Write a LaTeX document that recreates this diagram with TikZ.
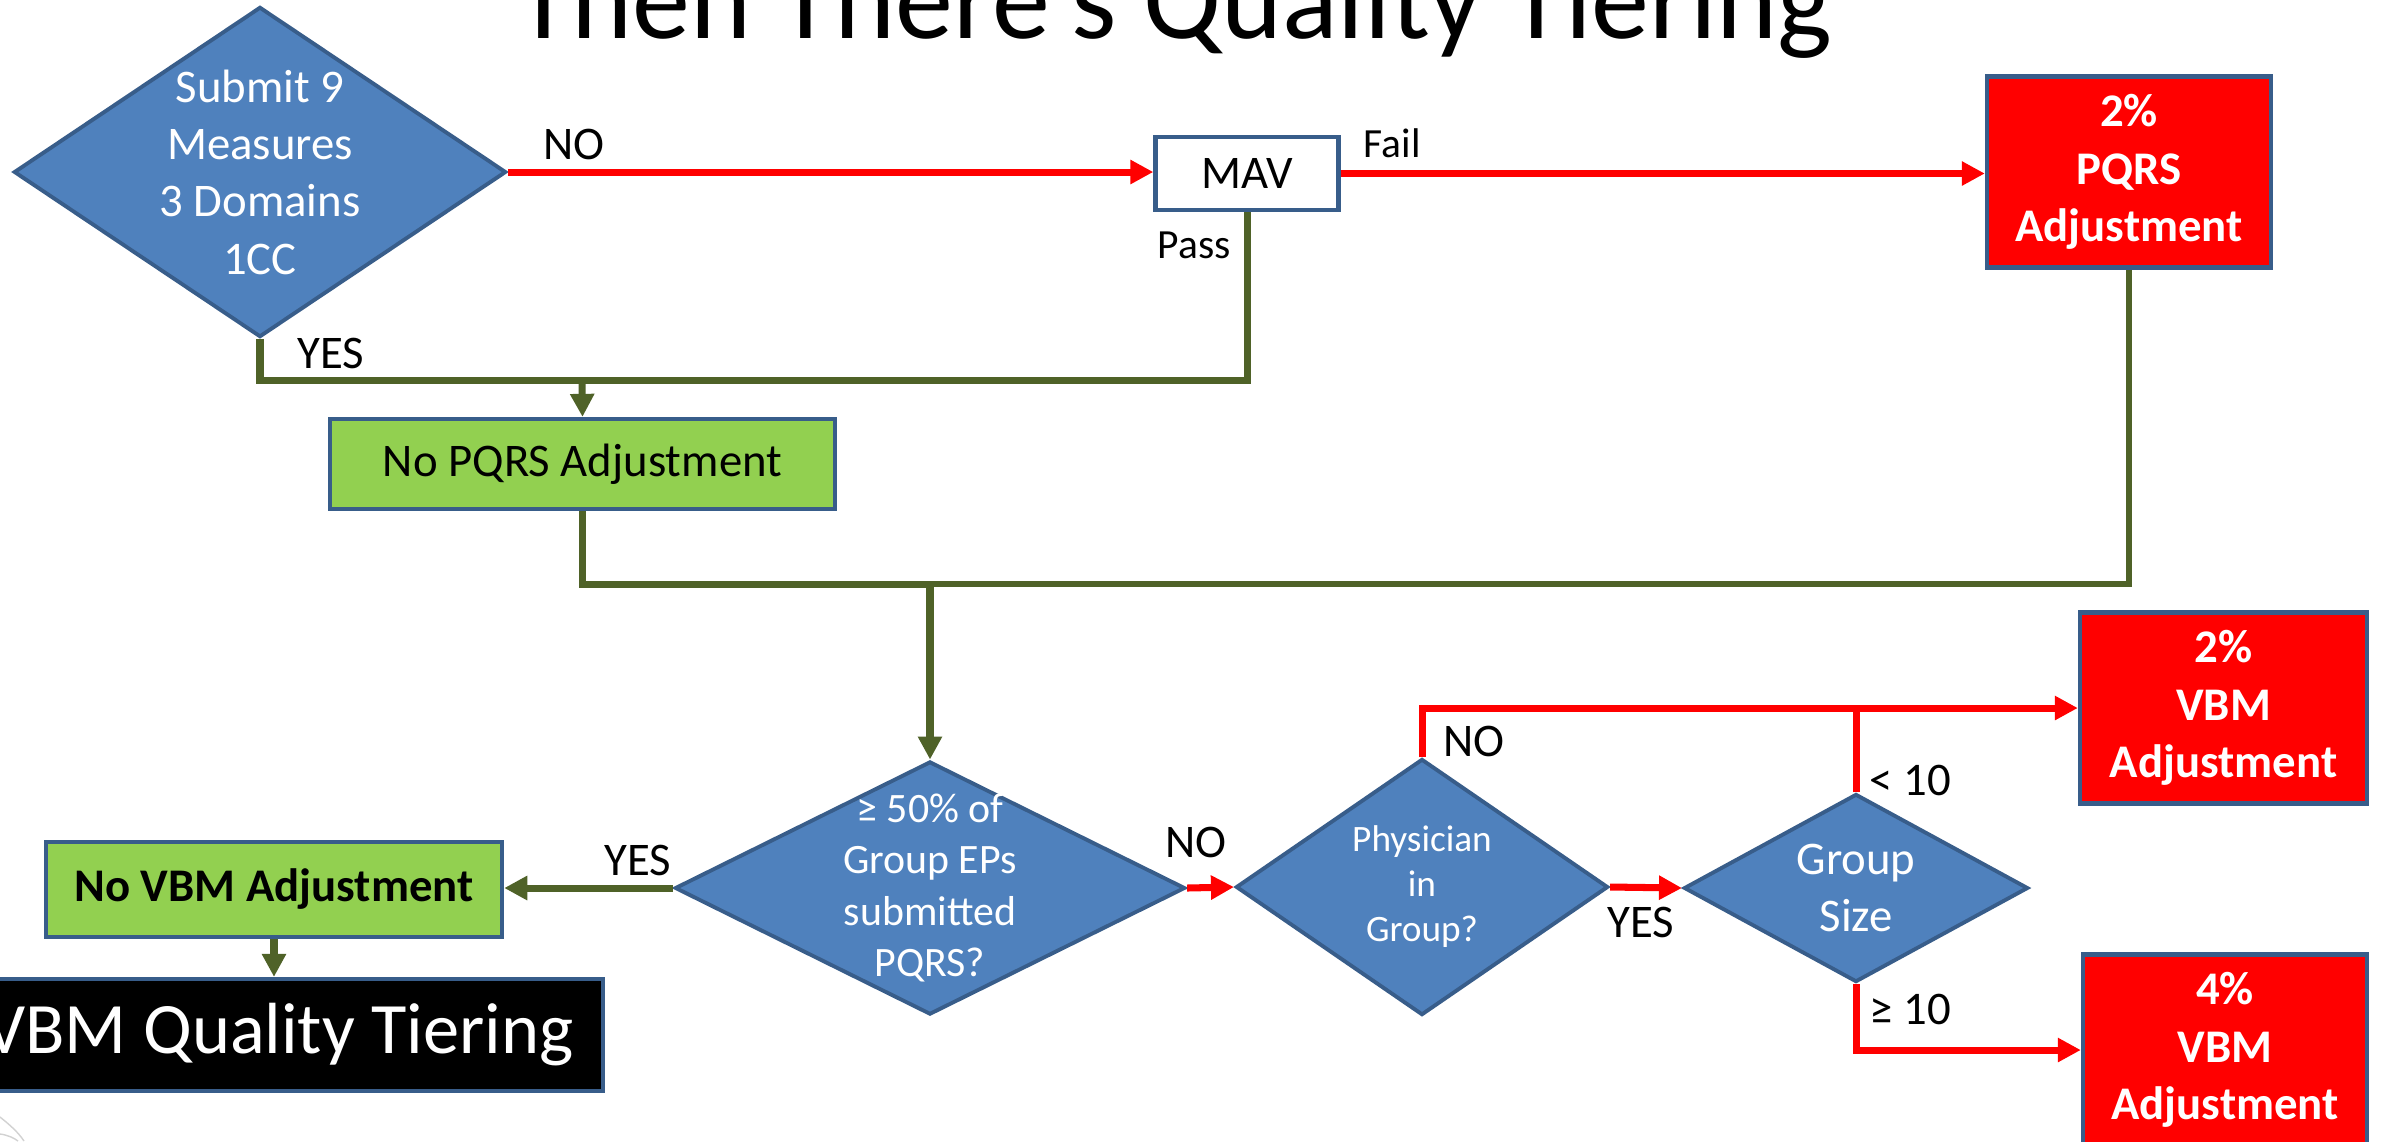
\documentclass[tikz,border=0pt]{standalone}
\usepackage{fontspec}
\setmainfont{Carlito}
\usetikzlibrary{shapes.geometric,arrows.meta}

\definecolor{diafill}{HTML}{4F81BD}
\definecolor{edgeblue}{HTML}{385D8A}
\definecolor{okgreen}{HTML}{92D050}
\definecolor{olive}{HTML}{4F6228}
\definecolor{alertred}{HTML}{FF0000}

\newcommand\fmain{\fontsize{13.3}{16.3}\selectfont}
\newcommand\fmid{\fontsize{11.9}{14.6}\selectfont}
\newcommand\fsmall{\fontsize{10.6}{12.8}\selectfont}
\newcommand\flab{\fontsize{11.8}{14}\selectfont}
\newcommand\fbig{\fontsize{20.6}{24}\selectfont}
\newcommand\ftitle{\fontsize{33}{38}\selectfont}

\tikzset{
  decision/.style={diamond, draw=edgeblue, fill=diafill, line width=1.1pt, inner sep=0pt},
  dtext/.style={text=white, align=center, inner sep=0pt},
  box/.style={rectangle, draw=edgeblue, line width=1.2pt, inner sep=0pt, align=center},
  redbox/.style={box, fill=alertred, text=white, font=\fmain\bfseries,
                 minimum width=2.84cm, minimum height=1.91cm},
  greenbox/.style={box, fill=okgreen, text=black},
  tip/.style={-{Triangle[length=0.23cm,width=0.23cm]}},
  redline/.style={draw=alertred, line width=2pt},
  oliveline/.style={draw=olive, line width=2pt},
  lbl/.style={anchor=base west, inner sep=0pt, font=\fmain},
  smalllbl/.style={lbl, font=\flab},
  faint/.style={draw=gray!35, line width=0.4pt},
}

\begin{document}
\begin{tikzpicture}[x=0.01cm, y=-0.01cm]
\useasboundingbox (0,0) rectangle (2382,1141);
\clip (0,0) rectangle (2382,1141);
\fill[white] (0,0) rectangle (2382,1141);

% heading
\node[font=\ftitle, anchor=base, inner sep=0pt] (title) at (1174,38) {Then There’s Quality Tiering};

% decisions
\node[decision, minimum width=4.92cm, minimum height=3.30cm] (d1) at (260,172) {};
\node[dtext, font=\fmain] (d1t) at (d1.center) {Submit 9\\Measures\\3 Domains\\1CC};

\node[decision, minimum width=5.10cm, minimum height=2.53cm] (d2) at (930,888) {};
\node[dtext, font=\fmid] (d2t) at (d2.center) {≥ 50\% of\\Group EPs\\submitted\\PQRS?};

\node[decision, minimum width=3.72cm, minimum height=2.56cm] (d3) at (1422,887) {};
\node[dtext, font=\fsmall] (d3t) at (d3.center) {Physician\\in\\Group?};

\node[decision, minimum width=3.44cm, minimum height=1.88cm] (d4) at (1856,888) {};
\node[dtext, font=\fmain] (d4t) at (d4.center) {Group\\Size};

% boxes
\node[box, fill=white, font=\fmain, minimum width=1.83cm, minimum height=0.73cm] (mav) at (1247,173.5) {MAV};
\node[redbox] (pqrs) at (2129,172) {2\%\\PQRS\\Adjustment};
\node[greenbox, font=\fmain, minimum width=5.05cm, minimum height=0.90cm] (nopqrs) at (582.5,464) {No PQRS Adjustment};
\node[greenbox, font=\fmain\bfseries, minimum width=4.56cm, minimum height=0.95cm] (novbm) at (274,889.5) {No VBM Adjustment};
\node[box, fill=black, text=white, font=\fbig, minimum width=6.48cm, minimum height=1.12cm] (vbmqt) at (279,1035) {VBM Quality Tiering};
\node[redbox, minimum width=2.87cm] (vbm2) at (2223.5,708) {2\%\\VBM\\Adjustment};
\node[redbox] (vbm4) at (2225,1050) {4\%\\VBM\\Adjustment};

% upper connectors
\draw[redline, tip] (d1.east) -- (d1.east -| mav.west);
\draw[redline, tip] (mav.east) -- (mav.east -| pqrs.west);
\coordinate (j1) at (582,380);
\draw[oliveline] (d1.south) |- (j1);
\draw[oliveline] (mav.south) |- (j1);
\draw[oliveline, tip] (j1) -- (nopqrs.north);
\coordinate (j2) at (930,584);
\draw[oliveline, line width=1.6pt] (pqrs.south) |- (j2);
\draw[oliveline] (nopqrs.south) |- (j2);
\draw[oliveline, tip] (j2) -- (d2.north);

% lower connectors
\draw[oliveline, tip] (d2.west) -- (d2.west -| novbm.east);
\draw[oliveline, tip] (novbm.south) -- (novbm.south |- vbmqt.north);
\draw[redline, tip] (d2.east) -- (d3.west);
\draw[redline, tip] (d3.north) |- (vbm2.west);
\draw[redline] (d4.north) -- (d4.north |- vbm2.west);
\draw[redline, tip] (d3.east) -- (d4.west);
\draw[redline, tip] (d4.south) |- (vbm4.west);

% connector labels
\node[lbl] (lno1) at (543,159) {NO};
\node[lbl] (lyes1) at (297,368) {YES};
\node[smalllbl] (lfail) at (1363,157) {Fail};
\node[smalllbl] (lpass) at (1157,258) {Pass};
\node[lbl] (lyes2) at (604,875) {YES};
\node[lbl] (lno2) at (1165,857) {NO};
\node[lbl] (lno3) at (1443,756) {NO};
\node[lbl] (llt) at (1869,795) {< 10};
\node[lbl] (lyes3) at (1607,937) {YES};
\node[lbl] (lge) at (1869,1024) {≥ 10};

% faint mark in the lower left corner
\draw[faint] (0,1117) .. controls (10,1125) and (18,1132) .. (24,1141);
\draw[faint] (0,1134) .. controls (8,1135) and (14,1138) .. (18,1141);
\end{tikzpicture}
\end{document}
